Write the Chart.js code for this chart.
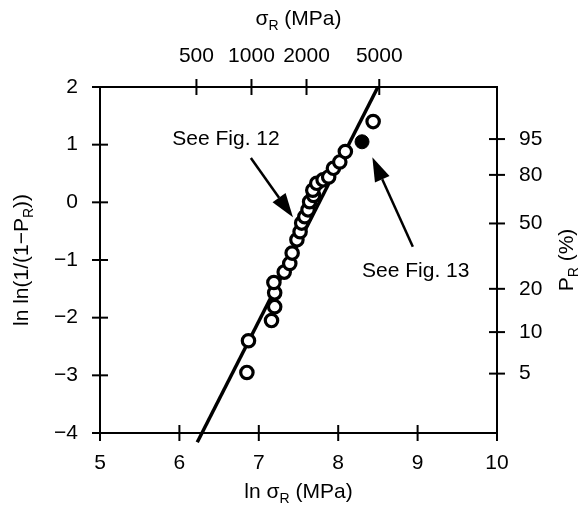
<!DOCTYPE html>
<html>
<head>
<meta charset="utf-8">
<script src="https://cdn.jsdelivr.net/npm/chart.js@4.4.1/dist/chart.umd.min.js"></script>
<style>
  html, body { margin: 0; padding: 0; background: #fff; }
  #wrap { width: 581px; height: 508px; }
</style>
</head>
<body>
<div id="wrap"><canvas id="chart" width="581" height="508"></canvas></div>
<script>
// ln(strength) and Weibull ordinate
const lnStrength = [6.85, 6.87, 7.16, 7.20, 7.20, 7.19, 7.32, 7.39, 7.42, 7.48, 7.52, 7.54, 7.58, 7.62, 7.64, 7.69, 7.68, 7.73, 7.81, 7.88, 7.94, 8.02, 8.09, 8.44];
const lnlnP = [-2.95, -2.40, -2.05, -1.81, -1.57, -1.39, -1.21, -1.06, -0.88, -0.65, -0.51, -0.36, -0.25, -0.13, 0.01, 0.12, 0.21, 0.33, 0.39, 0.44, 0.59, 0.70, 0.88, 1.40];
// the specimen of Fig. 13 (filled marker)
const fig13X = [8.30];
const fig13Y = [1.05];
// fitted Weibull line
const fitX = [6.225, 8.50];
const fitY = [-4.16, 2.0];
// axis ticks
const xTicks = [5, 6, 7, 8, 9, 10];
const yTicks = [-4, -3, -2, -1, 0, 1, 2];
const stressTicks = [500, 1000, 2000, 5000];
const probTicks = [5, 10, 20, 50, 80, 95];

function toPoints(xs, ys) {
  return xs.map((x, i) => ({ x: x, y: ys[i] }));
}

const FONT = "'Liberation Sans', Arial, Helvetica, sans-serif";
const FS = 21;
Chart.defaults.font.family = FONT;
Chart.defaults.font.size = FS;
Chart.defaults.color = '#000';

// text notes and arrows, in data units
const notes = [
  { text: 'See Fig. 12', x: 5.91, y: 1.10, tail: [6.90, 0.77], tip: [7.43, -0.26] },
  { text: 'See Fig. 13', x: 8.30, y: -1.19, tail: [8.94, -0.77], tip: [8.43, 0.78] }
];

function drawRich(ctx, parts, cx, cy, rot) {
  ctx.save();
  ctx.translate(cx, cy);
  ctx.rotate(rot);
  let w = 0;
  parts.forEach(p => {
    ctx.font = (p.sub ? 14 : FS) + 'px ' + FONT;
    p.w = ctx.measureText(p.t).width;
    w += p.w;
  });
  let x = -w / 2;
  ctx.fillStyle = '#000';
  ctx.textBaseline = 'alphabetic';
  ctx.textAlign = 'left';
  parts.forEach(p => {
    ctx.font = (p.sub ? 14 : FS) + 'px ' + FONT;
    ctx.fillText(p.t, x, p.sub ? 12 : 7);
    x += p.w;
  });
  ctx.restore();
}

const decorPlugin = {
  id: 'decor',
  afterDraw(chart) {
    const ctx = chart.ctx;
    const s = chart.scales;
    ctx.save();
    ctx.strokeStyle = '#000';
    ctx.lineWidth = 2;
    // tick marks crossing the frame
    s.x.ticks.forEach(t => {
      const px = s.x.getPixelForValue(t.value);
      ctx.beginPath(); ctx.moveTo(px, s.x.top - 8); ctx.lineTo(px, s.x.top + 8); ctx.stroke();
    });
    s.x2.ticks.forEach(t => {
      const px = s.x2.getPixelForValue(t.value);
      ctx.beginPath(); ctx.moveTo(px, s.x2.bottom - 8); ctx.lineTo(px, s.x2.bottom + 8); ctx.stroke();
    });
    s.y.ticks.forEach(t => {
      const py = s.y.getPixelForValue(t.value);
      ctx.beginPath(); ctx.moveTo(s.y.right - 8, py); ctx.lineTo(s.y.right + 8, py); ctx.stroke();
    });
    s.y2.ticks.forEach(t => {
      const py = s.y2.getPixelForValue(t.value);
      ctx.beginPath(); ctx.moveTo(s.y2.left - 8, py); ctx.lineTo(s.y2.left + 8, py); ctx.stroke();
    });

    // notes with arrows
    notes.forEach(n => {
      ctx.font = FS + 'px ' + FONT;
      ctx.fillStyle = '#000';
      ctx.textAlign = 'left';
      ctx.textBaseline = 'middle';
      ctx.fillText(n.text, s.x.getPixelForValue(n.x), s.y.getPixelForValue(n.y));
      const x0 = s.x.getPixelForValue(n.tail[0]), y0 = s.y.getPixelForValue(n.tail[1]);
      const x1 = s.x.getPixelForValue(n.tip[0]), y1 = s.y.getPixelForValue(n.tip[1]);
      const a = Math.atan2(y1 - y0, x1 - x0);
      const len = 24, half = 8;
      const bx = x1 - len * Math.cos(a), by = y1 - len * Math.sin(a);
      ctx.lineWidth = 2.5;
      ctx.beginPath(); ctx.moveTo(x0, y0); ctx.lineTo(bx, by); ctx.stroke();
      ctx.beginPath();
      ctx.moveTo(x1, y1);
      ctx.lineTo(bx + half * Math.sin(a), by - half * Math.cos(a));
      ctx.lineTo(bx - half * Math.sin(a), by + half * Math.cos(a));
      ctx.closePath();
      ctx.fill();
    });
    ctx.restore();

    // axis titles with subscripts
    const area = chart.chartArea;
    const midX = (area.left + area.right) / 2;
    const midY = (area.top + area.bottom) / 2;
    drawRich(ctx, [{ t: 'ln σ' }, { t: 'R', sub: true }, { t: ' (MPa)' }], midX, 491, 0);
    drawRich(ctx, [{ t: 'σ' }, { t: 'R', sub: true }, { t: ' (MPa)' }], midX, 18, 0);
    drawRich(ctx, [{ t: 'ln ln(1/(1−P' }, { t: 'R', sub: true }, { t: '))' }], 21, midY, -Math.PI / 2);
    drawRich(ctx, [{ t: 'P' }, { t: 'R', sub: true }, { t: ' (%)' }], 566, midY, -Math.PI / 2);
  }
};

const border = { display: true, color: '#000', width: 2 };

new Chart(document.getElementById('chart'), {
  type: 'scatter',
  data: {
    datasets: [
      {
        label: 'Specimens',
        data: toPoints(lnStrength, lnlnP),
        pointStyle: 'circle',
        pointRadius: 6.2,
        pointBorderWidth: 3.2,
        pointBackgroundColor: '#fff',
        pointBorderColor: '#000',
        order: 0
      },
      {
        label: 'Fig. 13',
        data: toPoints(fig13X, fig13Y),
        pointStyle: 'circle',
        pointRadius: 7,
        pointBorderWidth: 1,
        pointBackgroundColor: '#000',
        pointBorderColor: '#000',
        order: 0
      },
      {
        label: 'Fit',
        data: toPoints(fitX, fitY),
        showLine: true,
        borderColor: '#000',
        borderWidth: 3.5,
        pointRadius: 0,
        clip: false,
        order: 1
      }
    ]
  },
  options: {
    responsive: false,
    animation: false,
    layout: { padding: 0 },
    plugins: {
      legend: { display: false },
      tooltip: { enabled: false }
    },
    scales: {
      x: {
        type: 'linear', position: 'bottom', min: 5, max: 10,
        grid: { display: false, drawTicks: false },
        border: border,
        ticks: { padding: 18, autoSkip: false, maxRotation: 0 },
        afterBuildTicks: sc => { sc.ticks = xTicks.map(v => ({ value: v })); },
        afterFit: sc => { sc.height = 75; }
      },
      x2: {
        type: 'linear', position: 'top', min: 5, max: 10,
        grid: { display: false, drawTicks: false },
        border: border,
        ticks: {
          padding: 18, autoSkip: false, maxRotation: 0,
          callback: (v, i) => String(stressTicks[i])
        },
        afterBuildTicks: sc => { sc.ticks = stressTicks.map(s => ({ value: Math.log(s) })); },
        afterFit: sc => { sc.height = 87; }
      },
      y: {
        type: 'linear', position: 'left', min: -4, max: 2,
        grid: { display: false, drawTicks: false },
        border: border,
        ticks: {
          padding: 22, autoSkip: false,
          callback: v => String(v).replace('-', '−')
        },
        afterBuildTicks: sc => { sc.ticks = yTicks.map(v => ({ value: v })); },
        afterFit: sc => { sc.width = 100; }
      },
      y2: {
        type: 'linear', position: 'right', min: -4, max: 2,
        grid: { display: false, drawTicks: false },
        border: border,
        ticks: {
          padding: 22, autoSkip: false,
          callback: (v, i) => String(probTicks[i])
        },
        afterBuildTicks: sc => { sc.ticks = probTicks.map(p => ({ value: Math.log(-Math.log(1 - p / 100)) })); },
        afterFit: sc => { sc.width = 84; }
      }
    }
  },
  plugins: [decorPlugin]
});
</script>
</body>
</html>
